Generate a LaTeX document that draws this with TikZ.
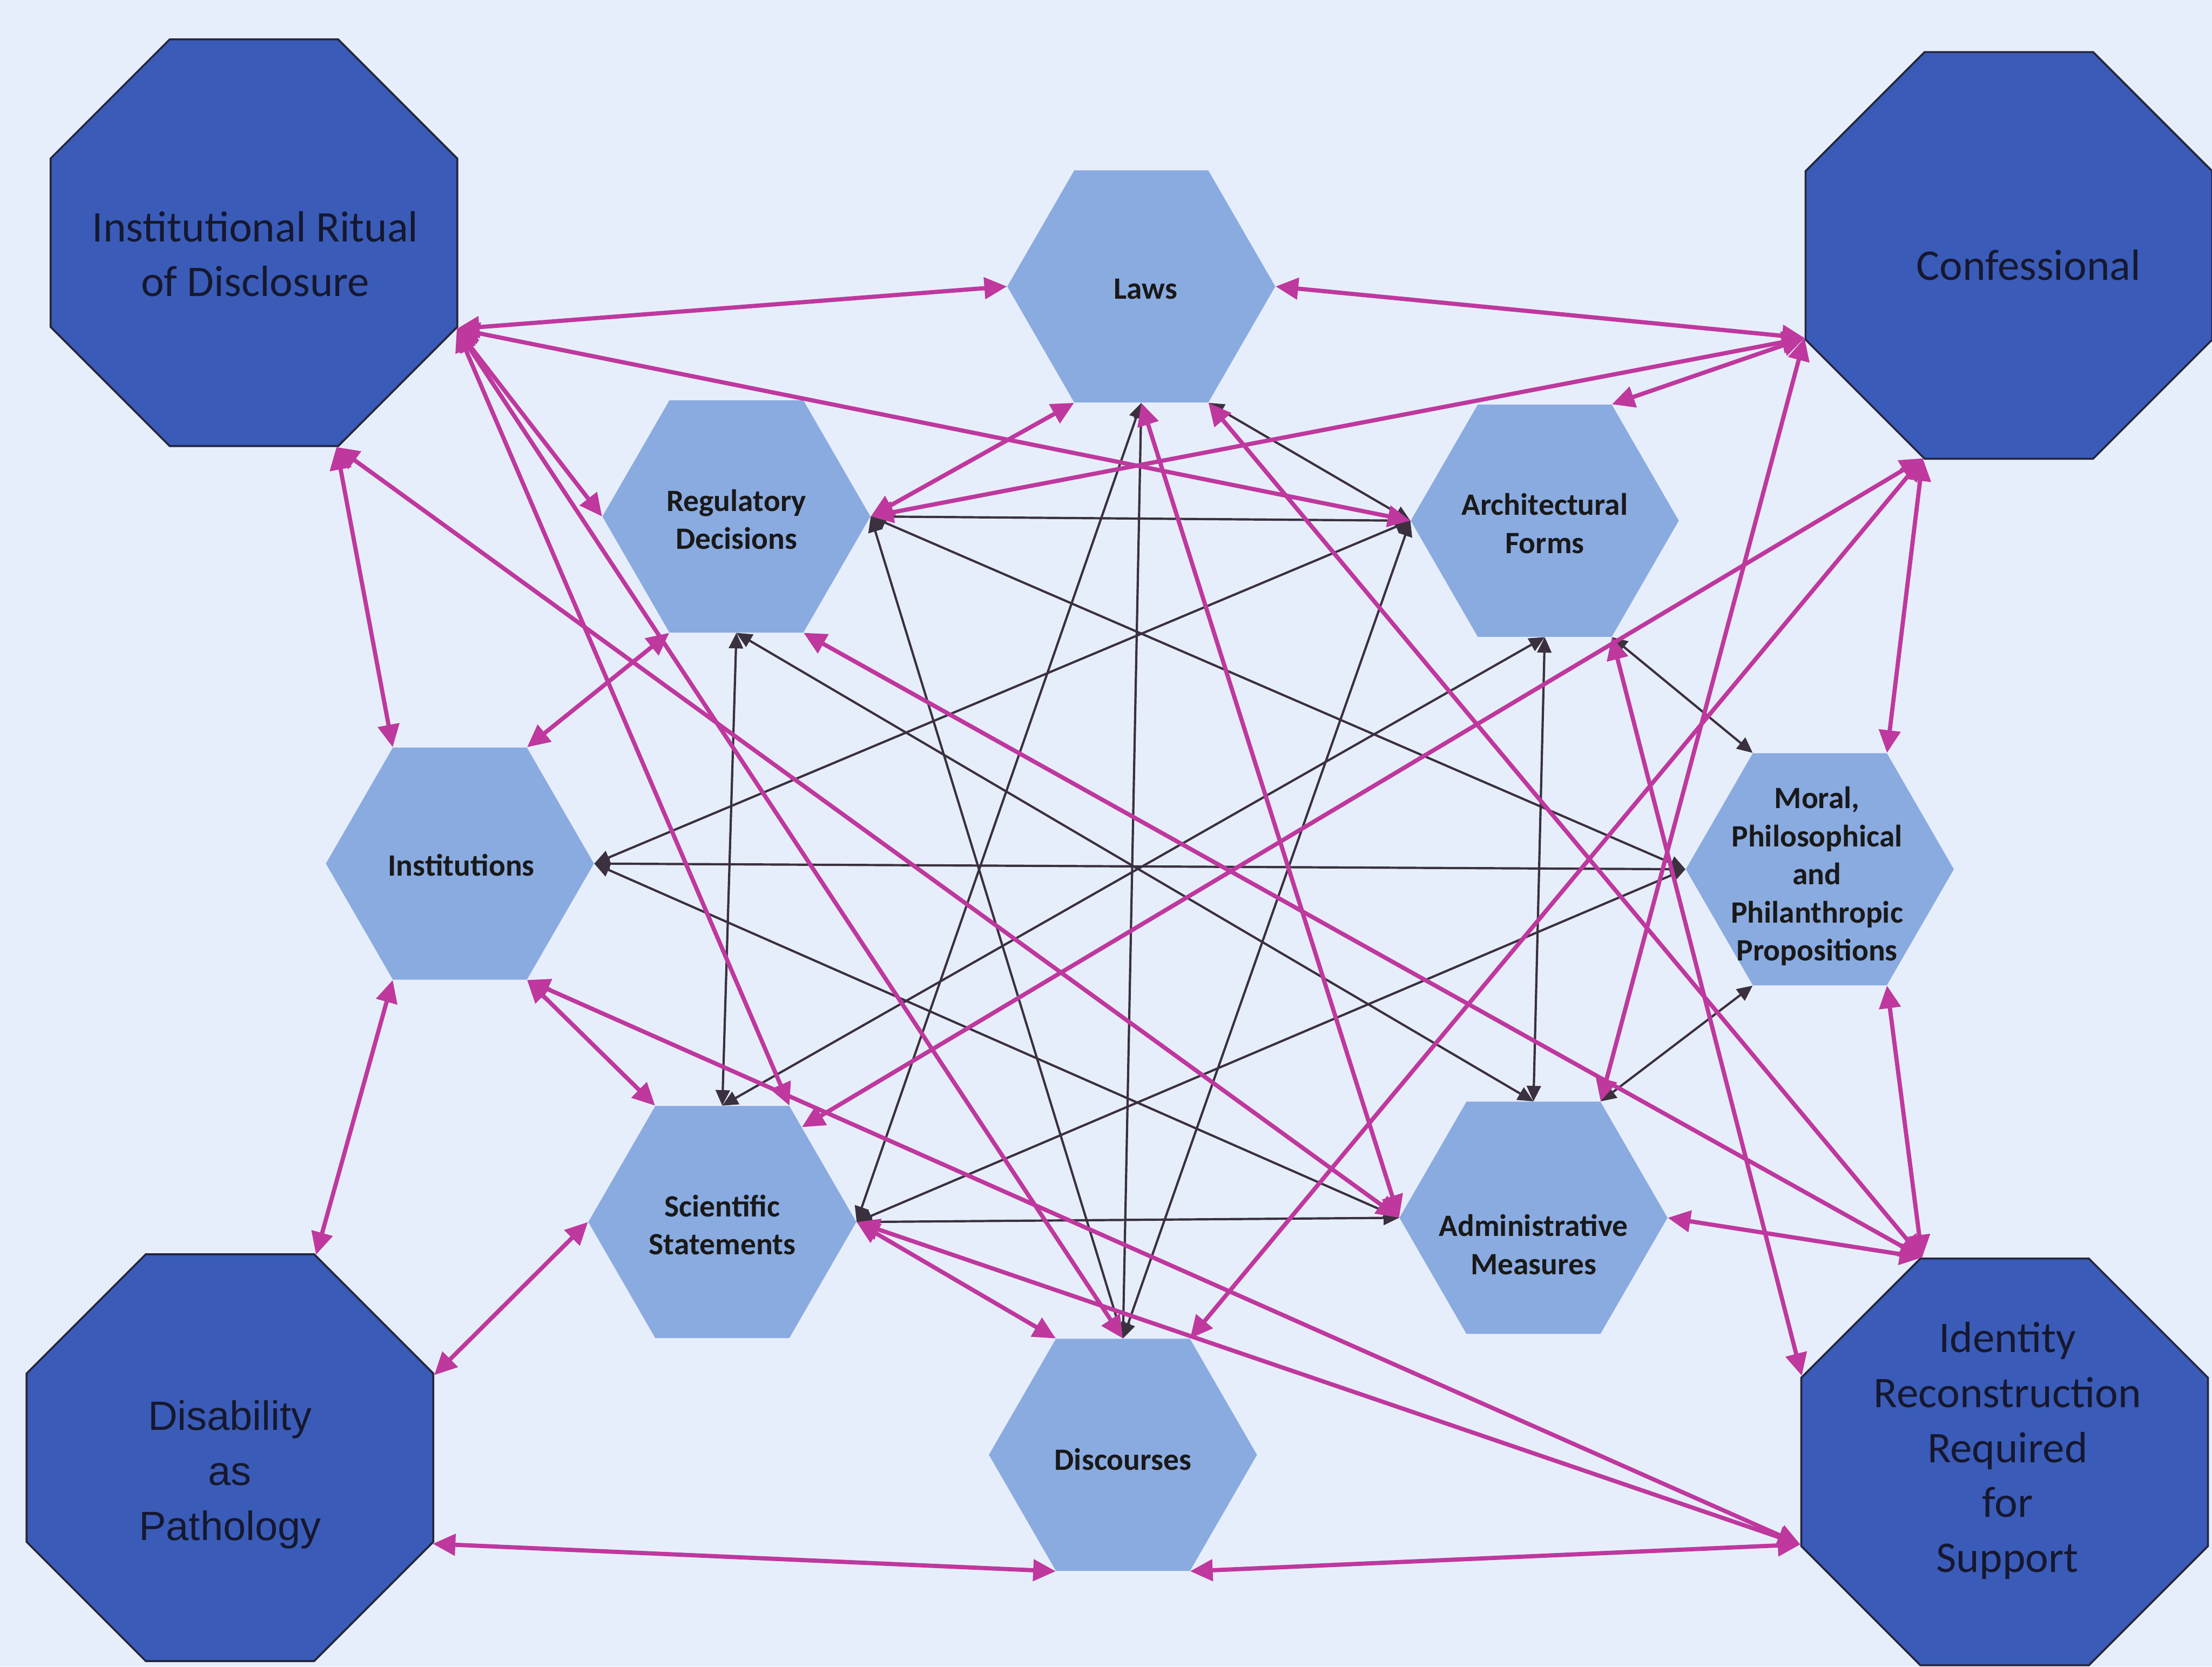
\documentclass[tikz,border=0pt]{standalone}
\usepackage{fontspec}
\setmainfont{Carlito}
\newfontfamily\arialfont{Liberation Sans}
\usetikzlibrary{shapes.geometric,arrows.meta}
\definecolor{bgc}{RGB}{231,238,251}
\definecolor{octfill}{RGB}{58,92,184}
\definecolor{octline}{RGB}{38,38,62}
\definecolor{hexfill}{RGB}{138,171,224}
\definecolor{pinkc}{RGB}{190,56,158}
\definecolor{linkc}{RGB}{58,48,62}
\definecolor{txtc}{RGB}{22,24,48}
\begin{document}
\begin{tikzpicture}[x=1pt,y=-1pt,
  octa/.style={regular polygon, regular polygon sides=8, minimum size=312pt,
    inner sep=0pt, fill=octfill, draw=octline, line width=1.4pt},
  hexa/.style={regular polygon, regular polygon sides=6, minimum size=190pt,
    inner sep=0pt, fill=hexfill, draw=none},
  otext/.style={align=center, text=txtc, inner sep=0pt,
    font=\fontsize{31}{39}\selectfont},
  htext/.style={align=center, text=black!90, inner sep=0pt,
    font=\bfseries\fontsize{22}{27}\selectfont},
  pk/.style={draw=pinkc, line width=3pt,
    {Triangle[length=16pt,width=15pt]}-{Triangle[length=16pt,width=15pt]}},
  bk/.style={draw=linkc, line width=1.6pt,
    {Triangle[length=11pt,width=10pt]}-{Triangle[length=11pt,width=10pt]}},
]
% page
\fill[bgc] (0,0) rectangle (1568,1181);
\useasboundingbox (0,0) rectangle (1568,1181);

% outer octagons
\node[octa] (tl)   at (180,172)  {};
\node[octa] (conf) at (1424,181) {};
\node[octa] (bl)   at (163,1033) {};
\node[octa] (br)   at (1421,1036) {};

% the eight elements
\node[hexa] (laws)  at (809,203)  {};
\node[hexa] (reg)   at (522,366)  {};
\node[hexa] (arch)  at (1095,369) {};
\node[hexa] (inst)  at (326,612)  {};
\node[hexa] (moral) at (1290,616) {};
\node[hexa] (sci)   at (512,866)  {};
\node[hexa] (admin) at (1087,863) {};
\node[hexa] (disc)  at (796,1031) {};

% network between the elements
\draw[bk] (reg.0) -- (arch.180);
\draw[bk] (reg.0) -- (moral.180);
\draw[bk] (reg.0) -- (disc.90);
\draw[bk] (reg.270) -- (sci.90);
\draw[bk] (reg.270) -- (admin.90);
\draw[bk] (arch.180) -- (inst.0);
\draw[bk] (arch.180) -- (disc.90);
\draw[bk] (arch.270) -- (admin.90);
\draw[bk] (arch.270) -- (sci.90);
\draw[bk] (inst.0) -- (moral.180);
\draw[bk] (inst.0) -- (admin.180);
\draw[bk] (moral.180) -- (sci.0);
\draw[bk] (laws.270) -- (disc.90);
\draw[bk] (laws.270) -- (sci.0);
\draw[bk] (sci.0) -- (admin.180);
\draw[bk] (laws.300) -- (arch.180);
\draw[bk] (arch.300) -- (moral.120);
\draw[bk] (moral.240) -- (admin.60);

% Institutional Ritual of Disclosure
\draw[pk] (tl.337.5) -- (laws.180);
\draw[pk] (tl.337.5) -- (arch.180);
\draw[pk] (tl.337.5) -- (reg.180);
\draw[pk] (tl.337.5) -- (sci.60);
\draw[pk] (tl.337.5) -- (disc.90);
\draw[pk] (tl.292.5) -- (inst.120);
\draw[pk] (tl.292.5) -- (admin.180);

% Confessional
\draw[pk] (conf.202.5) -- (laws.0);
\draw[pk] (conf.202.5) -- (reg.0);
\draw[pk] (conf.202.5) -- (arch.60);
\draw[pk] (conf.202.5) -- (admin.60);
\draw[pk] (conf.247.5) -- (sci.50);
\draw[pk] (conf.247.5) -- (disc.60);
\draw[pk] (conf.247.5) -- (moral.60);

% Identity Reconstruction Required for Support
\draw[pk] (br.112.5) -- (moral.300);
\draw[pk] (br.112.5) -- (admin.0);
\draw[pk] (br.112.5) -- (reg.300);
\draw[pk] (br.112.5) -- (laws.300);
\draw[pk] (br.157.5) -- (arch.300);
\draw[pk] (br.202.5) -- (inst.300);
\draw[pk] (br.202.5) -- (sci.0);
\draw[pk] (br.202.5) -- (disc.300);

% Disability as Pathology
\draw[pk] (bl.67.5) -- (inst.240);
\draw[pk] (bl.22.5) -- (sci.180);
\draw[pk] (bl.337.5) -- (disc.240);

% neighbouring elements
\draw[pk] (reg.0) -- (laws.240);
\draw[pk] (reg.240) -- (inst.60);
\draw[pk] (inst.300) -- (sci.120);
\draw[pk] (sci.0) -- (disc.120);
\draw[pk] (laws.270) -- (admin.180);

% labels
\node[otext] (tl-t)   at (181,180)  {Institutional Ritual\\of Disclosure};
\node[otext] (conf-t) at (1438,188) {Confessional};
\node[otext, font=\arialfont\fontsize{29}{39}\selectfont] (bl-t) at (163,1045) {Disability\\as\\Pathology};
\node[otext] (br-t)   at (1423,1028) {Identity\\Reconstruction\\Required\\for\\Support};

\node[htext] (laws-t)  at (812,205)  {Laws};
\node[htext] (reg-t)   at (522,368)  {Regulatory\\Decisions};
\node[htext] (arch-t)  at (1095,371) {Architectural\\Forms};
\node[htext] (inst-t)  at (327,613)  {Institutions};
\node[htext] (moral-t) at (1288,621) {Moral,\\Philosophical\\and\\Philanthropic\\Propositions};
\node[htext] (sci-t)   at (512,868)  {Scientific\\Statements};
\node[htext] (admin-t) at (1087,882) {Administrative\\Measures};
\node[htext] (disc-t)  at (796,1034) {Discourses};
\end{tikzpicture}
\end{document}
